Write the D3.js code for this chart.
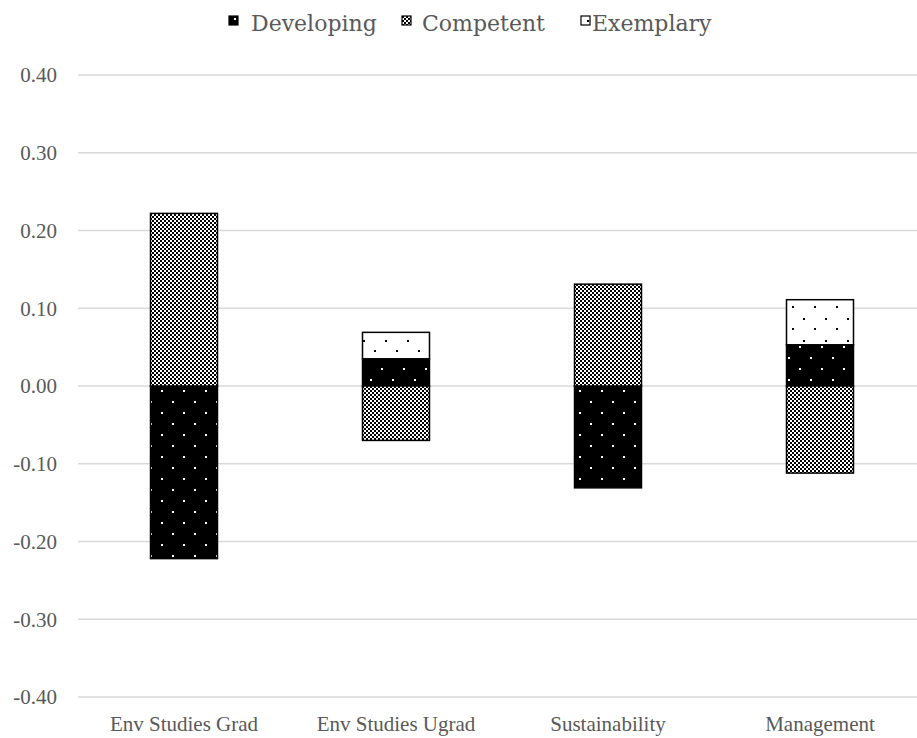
<!DOCTYPE html>
<html>
<head>
<meta charset="utf-8">
<script src="https://cdn.jsdelivr.net/npm/d3@7"></script>
<style>
  body { margin: 0; background: #fff; }
  svg { display: block; }
</style>
</head>
<body>
<div id="chart"></div>
<script>
const categories = ["Env Studies Grad", "Env Studies Ugrad", "Sustainability", "Management"];
const seriesNames = ["Developing", "Competent", "Exemplary"];
const developing = [-0.222, 0.035, -0.131, 0.053];
const competent = [0.222, -0.070, 0.131, -0.112];
const exemplary = [0, 0.034, 0, 0.058];
const yTicks = [-0.4, -0.3, -0.2, -0.1, 0, 0.1, 0.2, 0.3, 0.4];

const W = 917, H = 738;
const TEXT = "#595959", GRID = "#d9d9d9";

const svg = d3.select("#chart").append("svg").attr("width", W).attr("height", H);
const defs = svg.append("defs");

// fill patterns, in page space so the dots line up like the original
const pDev = defs.append("pattern").attr("id", "pat-dev").attr("patternUnits", "userSpaceOnUse")
    .attr("width", 22).attr("height", 22);
pDev.append("rect").attr("width", 22).attr("height", 22).attr("fill", "#000");
pDev.append("rect").attr("x", 7).attr("y", 16).attr("width", 2).attr("height", 2).attr("fill", "#fff");
pDev.append("rect").attr("x", 18).attr("y", 5).attr("width", 2).attr("height", 2).attr("fill", "#fff");

const pCom = defs.append("pattern").attr("id", "pat-com").attr("patternUnits", "userSpaceOnUse")
    .attr("width", 4).attr("height", 4);
pCom.append("rect").attr("width", 4).attr("height", 4).attr("fill", "#fff");
pCom.append("rect").attr("width", 2).attr("height", 2).attr("fill", "#000");
pCom.append("rect").attr("x", 2).attr("y", 2).attr("width", 2).attr("height", 2).attr("fill", "#000");

const pExe = defs.append("pattern").attr("id", "pat-exe").attr("patternUnits", "userSpaceOnUse")
    .attr("width", 22).attr("height", 22);
pExe.append("rect").attr("width", 22).attr("height", 22).attr("fill", "#fff");
pExe.append("rect").attr("x", 11).attr("y", 10).attr("width", 2).attr("height", 2).attr("fill", "#000");
pExe.append("rect").attr("x", 0).attr("y", 20).attr("width", 2).attr("height", 2).attr("fill", "#000");

const fills = { Developing: "url(#pat-dev)", Competent: "url(#pat-com)", Exemplary: "url(#pat-exe)" };

const x = d3.scaleBand().domain(categories).range([78, 926]).paddingInner(0.684).paddingOuter(0.342);
const y = d3.scaleLinear().domain([-0.4, 0.4]).range([697, 75]);

// gridlines
svg.append("g").selectAll("line").data(yTicks).join("line")
    .attr("x1", 78).attr("x2", W).attr("y1", d => y(d)).attr("y2", d => y(d))
    .attr("stroke", GRID).attr("stroke-width", 1.3);

// y tick labels (plain hyphen for negatives, like the original)
const fmt = d => d3.format(".2f")(d).replace("\u2212", "-");
svg.append("g").selectAll("text").data(yTicks).join("text")
    .attr("x", 57).attr("y", d => y(d)).attr("dy", "0.35em").attr("text-anchor", "end")
    .attr("font-family", "Liberation Serif").attr("font-size", 21).attr("fill", TEXT)
    .text(fmt);

// category labels
svg.append("g").selectAll("text").data(categories).join("text")
    .attr("x", d => x(d) + x.bandwidth() / 2).attr("y", 731).attr("text-anchor", "middle")
    .attr("font-family", "Liberation Serif").attr("font-size", 21).attr("fill", TEXT)
    .text(d => d);

// diverging stack
const rows = categories.map((c, i) => ({ cat: c, Developing: developing[i], Competent: competent[i], Exemplary: exemplary[i] }));
const stacked = d3.stack().keys(seriesNames).offset(d3.stackOffsetDiverging)(rows);

svg.append("g").selectAll("g").data(stacked).join("g")
    .attr("fill", s => fills[s.key])
    .selectAll("rect").data(s => s.filter(d => d[1] !== d[0])).join("rect")
    .attr("x", d => x(d.data.cat)).attr("width", x.bandwidth())
    .attr("y", d => y(Math.max(d[0], d[1]))).attr("height", d => Math.abs(y(d[0]) - y(d[1])))
    .attr("stroke", "#000").attr("stroke-width", 1.5);

// legend
const legendX = [229, 402, 581];
const lg = svg.append("g").selectAll("g").data(seriesNames).join("g")
    .attr("transform", (d, i) => `translate(${legendX[i]},16)`);
lg.append("rect").attr("width", 9).attr("height", 9).attr("stroke", "#000").attr("stroke-width", 1.2)
    .attr("fill", d => d === "Developing" ? "#000" : d === "Exemplary" ? "#fff" : "url(#pat-com)");
lg.filter(d => d !== "Competent").append("rect")
    .attr("x", d => d === "Developing" ? 5 : 6).attr("y", d => d === "Developing" ? 2 : 4)
    .attr("width", 2).attr("height", 2)
    .attr("fill", d => d === "Developing" ? "#fff" : "#000");
lg.append("text").attr("x", d => d === "Developing" ? 22 : d === "Competent" ? 20 : 11).attr("y", 15)
    .attr("font-family", "DejaVu Serif").attr("font-size", 22).attr("fill", TEXT)
    .text(d => d);
</script>
</body>
</html>
